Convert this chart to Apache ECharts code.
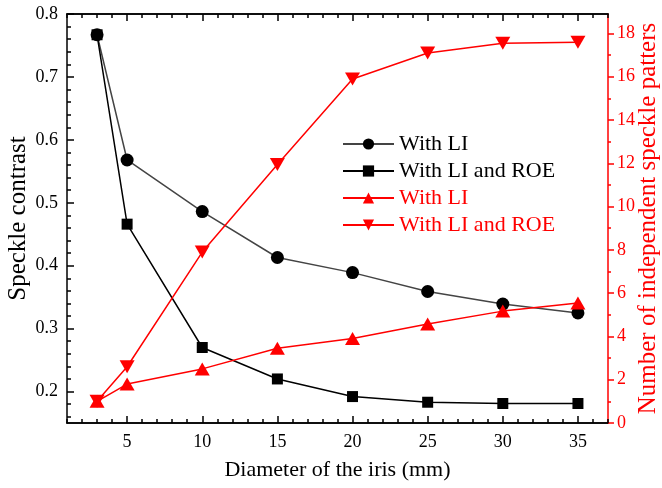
<!DOCTYPE html>
<html>
<head>
<meta charset="utf-8">
<script src="https://cdn.jsdelivr.net/npm/echarts@6/dist/echarts.min.js"></script>
<style>
  html, body { margin: 0; padding: 0; background: #fff; }
  #chart { width: 662px; height: 488px; }
</style>
</head>
<body>
<div id="chart"></div>
<script>
// iris diameter (mm)
const diameters = [3, 5, 10, 15, 20, 25, 30, 35]

// speckle contrast (left axis)
const contrastLI = [0.767, 0.568, 0.486, 0.413, 0.389, 0.359, 0.339, 0.325]
const contrastLIROE = [0.767, 0.466, 0.270, 0.220, 0.192, 0.183, 0.181, 0.181]

// number of independent speckle patterns (right axis)
const patternsLI = [1, 1.8, 2.5, 3.45, 3.9, 4.57, 5.17, 5.55]
const patternsLIROE = [1, 2.6, 7.9, 11.95, 15.9, 17.1, 17.55, 17.6]

// tick labels
const xTicks = [5, 10, 15, 20, 25, 30, 35]
const leftTicks = [0.2, 0.3, 0.4, 0.5, 0.6, 0.7, 0.8]
const rightTicks = [0, 2, 4, 6, 8, 10, 12, 14, 16, 18]

const legendText = {
  cLI: 'With LI',
  cROE: 'With LI and ROE',
  pLI: 'With LI',
  pROE: 'With LI and ROE'
}

const FONT = "'Liberation Serif', 'Times New Roman', serif"
const RED = '#ff0000'

// minor tick positions
const xMinor = []
for (let i = 1; i <= 37; i++) xMinor.push(i)
const leftMinor = []
for (let i = 16; i <= 80; i += 2) leftMinor.push(i / 100)
const rightMinor = []
for (let i = 1; i <= 17; i += 2) rightMinor.push(i)

const pairs = (ys) => diameters.map((d, i) => [d, ys[i]])

const xAxisDef = (position, ticks, len, main) => ({
  type: 'value',
  min: 1,
  max: 37,
  position,
  axisLine: { show: true, onZero: false, lineStyle: { color: '#000', width: 1.5 } },
  axisTick: { show: true, inside: true, length: len, customValues: ticks, lineStyle: { color: '#000', width: 1.5 } },
  axisLabel: main ? {
    customValues: xTicks, margin: 10, color: '#000', fontFamily: FONT, fontSize: 18
  } : { show: false },
  splitLine: { show: false },
  name: main ? 'Diameter of the iris (mm)' : '',
  nameLocation: 'middle',
  nameGap: 36,
  nameMoveOverlap: false,
  nameTextStyle: { color: '#000', fontFamily: FONT, fontSize: 22 }
})

const yAxisDef = (position, min, max, ticks, len, color, inside, labels, name, nameGap) => ({
  type: 'value',
  min,
  max,
  position,
  axisLine: { show: !!labels, onZero: false, lineStyle: { color, width: 1.5 } },
  axisTick: { show: true, inside, length: len, customValues: ticks, lineStyle: { color, width: 1.5 } },
  axisLabel: labels ? {
    customValues: labels, margin: 9, color, fontFamily: FONT, fontSize: 18
  } : { show: false },
  splitLine: { show: false },
  name: name || '',
  nameLocation: 'middle',
  nameGap,
  nameMoveOverlap: false,
  nameTextStyle: { color, fontFamily: FONT, fontSize: 25 }
})

const chart = echarts.init(document.getElementById('chart'))

const option = {
  animation: false,
  backgroundColor: '#fff',
  grid: {
    left: 67, right: 54, top: 14, bottom: 65,
    outerBoundsMode: 'none',
    containLabel: false
  },
  legend: {
    orient: 'vertical',
    left: 337,
    top: 128,
    itemWidth: 51,
    itemHeight: 14,
    itemGap: 5,
    selectedMode: false,
    formatter: (n) => legendText[n],
    textStyle: { fontFamily: FONT, fontSize: 22, lineHeight: 22 },
    data: [
      { name: 'cLI', textStyle: { color: '#000' } },
      { name: 'cROE', textStyle: { color: '#000' } },
      { name: 'pLI', textStyle: { color: RED } },
      { name: 'pROE', textStyle: { color: RED } }
    ]
  },
  xAxis: [
    xAxisDef('bottom', xTicks, 7, true),
    xAxisDef('bottom', xMinor, 4, false),
    xAxisDef('top', xTicks, 7, false),
    xAxisDef('top', xMinor, 4, false)
  ],
  yAxis: [
    yAxisDef('left', 0.15, 0.8, leftTicks, 7, '#000', true, leftTicks, 'Speckle contrast', 36),
    yAxisDef('left', 0.15, 0.8, leftMinor, 4, '#000', true, null, '', 0),
    yAxisDef('right', 0, 18.9, rightTicks, 6, RED, false, rightTicks, 'Number of independent speckle patters', 28),
    yAxisDef('right', 0, 18.9, rightMinor, 3, RED, false, null, '', 0)
  ],
  series: [
    {
      name: 'cLI',
      type: 'line',
      xAxisIndex: 0,
      yAxisIndex: 0,
      data: pairs(contrastLI),
      symbol: 'circle',
      symbolSize: 13,
      itemStyle: { color: '#000' },
      lineStyle: { color: '#444', width: 1.5 }
    },
    {
      name: 'cROE',
      type: 'line',
      xAxisIndex: 0,
      yAxisIndex: 0,
      data: pairs(contrastLIROE),
      symbol: 'rect',
      symbolSize: 11,
      itemStyle: { color: '#000' },
      lineStyle: { color: '#000', width: 1.5 }
    },
    {
      name: 'pLI',
      type: 'line',
      xAxisIndex: 0,
      yAxisIndex: 2,
      data: pairs(patternsLI),
      symbol: 'triangle',
      symbolSize: [15, 13],
      itemStyle: { color: RED },
      lineStyle: { color: RED, width: 1.5 }
    },
    {
      name: 'pROE',
      type: 'line',
      xAxisIndex: 0,
      yAxisIndex: 2,
      data: pairs(patternsLIROE),
      symbol: 'triangle',
      symbolRotate: 180,
      symbolSize: [15, 13],
      itemStyle: { color: RED },
      lineStyle: { color: RED, width: 1.5 }
    }
  ]
}

chart.setOption(option)
</script>
</body>
</html>
